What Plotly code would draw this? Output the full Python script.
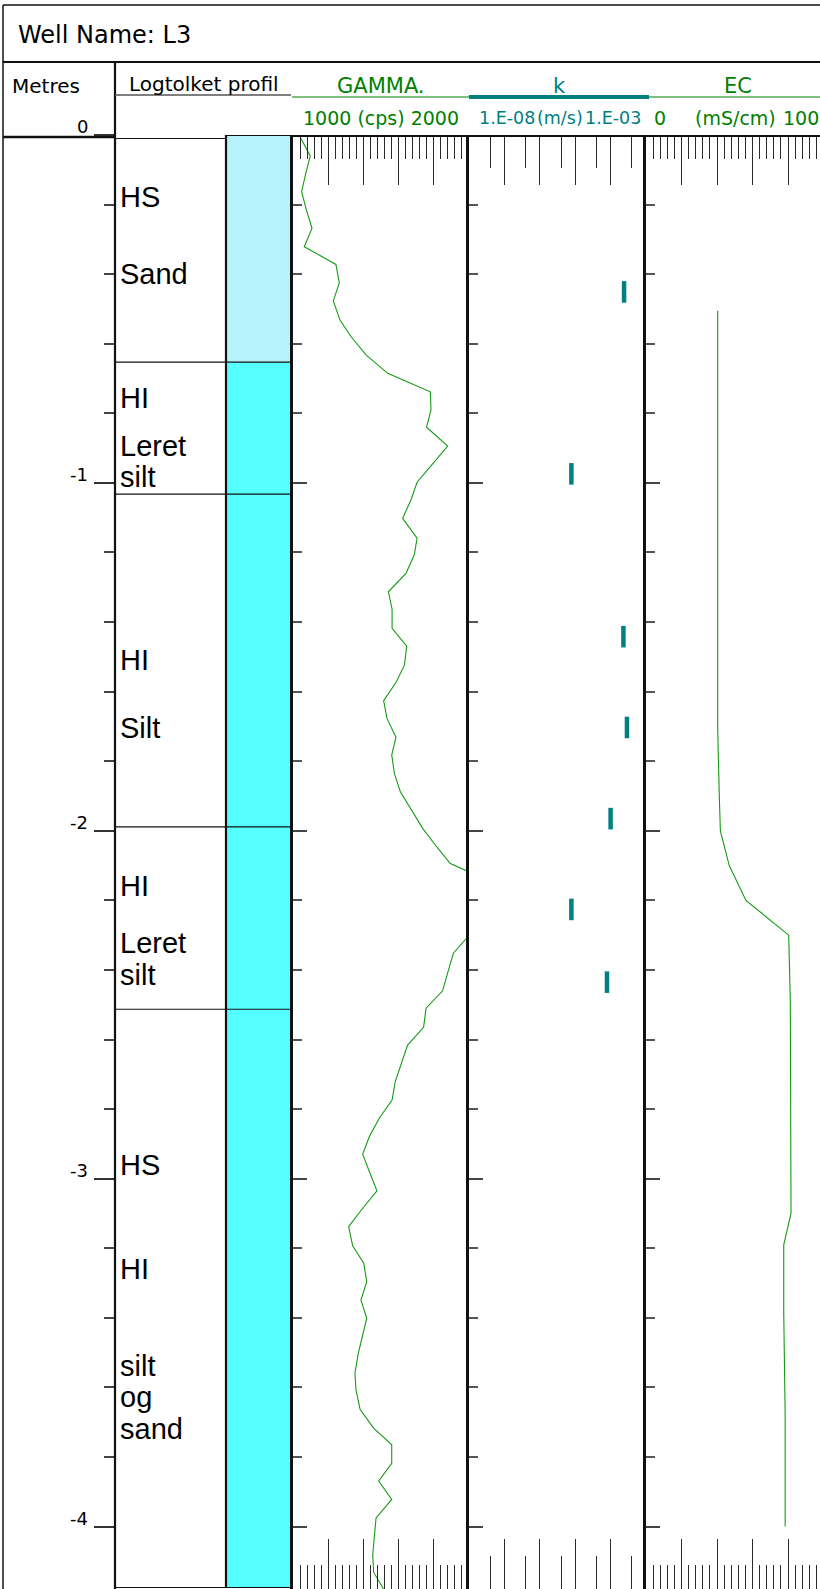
import plotly.graph_objects as go

W, H = 820, 1589
FONT = "Liberation Sans, Arial, sans-serif"
HEAD_FONT = "DejaVu Sans, Liberation Sans, sans-serif"
GREEN = "#008000"
TEAL = "#008080"
TICK = "#2a2a2a"

# ---------------- data ----------------
# Gamma log: level (m) and count rate (cps)
gamma_level = [-0.005, -0.060, -0.112, -0.163, -0.215, -0.268, -0.321, -0.372, -0.425, -0.477,
               -0.532, -0.580, -0.632, -0.685, -0.738, -0.790, -0.840, -0.894, -0.946, -0.998,
               -1.049, -1.102, -1.159, -1.207, -1.260, -1.313, -1.363, -1.418, -1.469, -1.524,
               -1.574, -1.626, -1.677, -1.731, -1.782, -1.835, -1.888, -1.940, -1.993, -2.045,
               -2.094, -2.146, -2.199, -2.252, -2.352, -2.406, -2.460, -2.510, -2.565, -2.616,
               -2.668, -2.721, -2.774, -2.826, -2.879, -2.930, -2.982, -3.035, -3.085, -3.138,
               -3.193, -3.243, -3.296, -3.349, -3.401, -3.454, -3.502, -3.559, -3.607, -3.663,
               -3.717, -3.765, -3.818, -3.869, -3.922, -3.975, -4.027, -4.080, -4.131, -4.176,
               -4.220]
gamma_cps = [1040, 1098, 1072, 1049, 1076, 1108, 1064, 1244, 1263, 1229,
             1267, 1330, 1415, 1538, 1780, 1784, 1759, 1879, 1792, 1705,
             1670, 1623, 1705, 1689, 1642, 1542, 1563, 1563, 1646, 1633,
             1585, 1515, 1534, 1585, 1561, 1576, 1610, 1673, 1737, 1815,
             1894, 2125, 2150, 2085, 1911, 1880, 1850, 1756, 1742, 1651,
             1616, 1581, 1563, 1490, 1434, 1396, 1436, 1477, 1396, 1316,
             1339, 1402, 1419, 1386, 1419, 1396, 1371, 1352, 1358, 1381,
             1458, 1561, 1561, 1487, 1561, 1472, 1462, 1453, 1458, 1510,
             1545]

# Hydraulic conductivity k (m/s) over short test intervals
k_top = [-0.420, -0.943, -1.411, -1.672, -1.934, -2.195, -2.404]
k_bottom = [-0.482, -1.005, -1.473, -1.734, -1.996, -2.257, -2.466]
k_ms = [2.4e-4, 7.8e-6, 2.3e-4, 2.9e-4, 1.0e-4, 7.8e-6, 7.9e-5]

# Electrical conductivity (mS/cm)
ec_level = [-0.505, -1.709, -1.901, -2.000, -2.100, -2.200, -2.300, -2.490, -3.100, -3.190,
            -3.385, -3.680, -4.000]
ec_mscm = [40.4, 40.4, 41.3, 41.9, 46.9, 56.3, 80.4, 81.3, 81.7, 77.6,
           77.6, 78.4, 78.4]

# Interpreted lithology ("Logtolket profil")
litho_top = [0.0, -0.653, -1.032, -1.989, -2.513]
litho_bottom = [-0.653, -1.032, -1.989, -2.513, -4.175]
litho_fill = ["#B6F2FB", "#55FFFF", "#55FFFF", "#55FFFF", "#55FFFF"]
litho_text = ["HS", "Sand", "HI", "Leret", "silt", "HI", "Silt", "HI", "Leret", "silt",
              "HS", "HI", "silt", "og", "sand"]
litho_text_level = [-0.177, -0.400, -0.756, -0.894, -0.983, -1.509, -1.704, -2.159, -2.322, -2.415,
                    -2.962, -3.259, -3.538, -3.627, -3.719]

# Scales and ticks
depth_major = [0, -1, -2, -3, -4]
depth_labels = ["0", "-1", "-2", "-3", "-4"]
gamma_range = [1000, 2000]
gamma_major = [1200, 1400, 1600, 1800]
k_range_log = [-8, -3]
k_major = [1e-7, 1e-6, 1e-5, 1e-4]
k_minor = [4e-8, 4e-7, 4e-6, 4e-5, 4e-4]
ec_major = [20, 40, 60, 80]

# ---------------- page geometry (pixels) ----------------
TOP = 135            # row of level 0
PX_PER_M = 347.9
LEVEL_MIN = -(H - TOP) / PX_PER_M
X_LEFT = 3
X_METRES = 115
X_COLOR = 226
X_GAMMA = 293
X_K = 469
X_EC = 646
EC_PX_PER_UNIT = 1.775


def px(x):
    return x / W


def py(y):
    return 1 - y / H


fig = go.Figure()

fig.add_trace(go.Scatter(x=gamma_cps, y=gamma_level, xaxis="x", yaxis="y", mode="lines",
                         line=dict(color="#169a16", width=1.1), hoverinfo="skip"))

kx, ky = [], []
for v, t, b in zip(k_ms, k_top, k_bottom):
    kx += [v, v, None]
    ky += [t, b, None]
fig.add_trace(go.Scatter(x=kx, y=ky, xaxis="x2", yaxis="y2", mode="lines",
                         line=dict(color=TEAL, width=4.5), hoverinfo="skip"))

fig.add_trace(go.Scatter(x=ec_mscm, y=ec_level, xaxis="x3", yaxis="y3", mode="lines",
                         line=dict(color="#169a16", width=1.1), hoverinfo="skip"))

# Metres ruler axis carries no data of its own
fig.add_trace(go.Scatter(x=[None], y=[None], xaxis="x", yaxis="y4", showlegend=False))


def xaxis_common(domain, anchor, major_len):
    return dict(domain=domain, anchor=anchor, side="top", showline=False, showgrid=False,
                zeroline=False, showticklabels=False, ticks="inside", ticklen=major_len,
                tickwidth=1, tickcolor=TICK, mirror="ticks", fixedrange=True)


xa1 = xaxis_common([px(X_GAMMA), px(X_K)], "y", 50)
xa1.update(range=gamma_range, tickmode="array", tickvals=gamma_major,
           minor=dict(ticks="inside", tickmode="linear", tick0=1000, dtick=40, ticklen=24,
                      tickwidth=1, tickcolor=TICK, showgrid=False))
xa2 = xaxis_common([px(X_K), px(X_EC)], "y2", 50)
xa2.update(type="log", range=k_range_log, tickmode="array", tickvals=k_major,
           minor=dict(ticks="inside", tickmode="array", tickvals=k_minor, ticklen=33,
                      tickwidth=1, tickcolor=TICK, showgrid=False))
xa3 = xaxis_common([px(X_EC), 1], "y3", 50)
xa3.update(range=[0, (W - X_EC) / EC_PX_PER_UNIT], tickmode="array", tickvals=ec_major,
           minor=dict(ticks="inside", tickmode="linear", tick0=0, dtick=4, ticklen=24,
                      tickwidth=1, tickcolor=TICK, showgrid=False))


def yaxis_track(anchor):
    return dict(domain=[0, py(TOP)], range=[LEVEL_MIN, 0], anchor=anchor, side="left",
                ticks="inside", tickmode="array", tickvals=depth_major, ticklen=14,
                tickwidth=1.5, tickcolor="#444",
                minor=dict(ticks="inside", tickmode="linear", tick0=0, dtick=0.2, ticklen=9,
                           tickwidth=1.5, tickcolor="#555", showgrid=False),
                showline=True, linewidth=2.5, linecolor="#111", mirror=False,
                showticklabels=False, showgrid=False, zeroline=False, fixedrange=True)


ya1 = yaxis_track("x")
ya2 = yaxis_track("x2")
ya2["matches"] = "y"
ya3 = yaxis_track("x3")
ya3["matches"] = "y"
ya4 = dict(overlaying="y", anchor="free", position=px(X_METRES), side="left",
           range=[LEVEL_MIN, 0], ticks="outside", tickmode="array", tickvals=depth_major,
           ticklen=21, tickwidth=1.5, tickcolor="#333",
           minor=dict(ticks="outside", tickmode="linear", tick0=0, dtick=0.2, ticklen=11,
                      tickwidth=1.5, tickcolor="#444", showgrid=False),
           showline=False, showticklabels=False, showgrid=False, zeroline=False,
           fixedrange=True)

shapes = []


def hline(y, x0, x1, width=1.0, color="#111"):
    shapes.append(dict(type="line", xref="paper", yref="paper", x0=px(x0), x1=px(x1),
                       y0=py(y), y1=py(y), line=dict(color=color, width=width)))


def vline(x, y0, y1, width=1.0, color="#111"):
    shapes.append(dict(type="line", xref="paper", yref="paper", x0=px(x), x1=px(x),
                       y0=py(y0), y1=py(y1), line=dict(color=color, width=width)))


# header frame
hline(5, X_LEFT, W, 1.5)
vline(X_LEFT, 5, H, 1.5)
hline(62, X_LEFT, W, 2)
vline(X_METRES, 62, H, 2.2)
hline(95, X_METRES, 291, 1.5, "#555")
hline(97, 292, 469, 1.2, GREEN)
hline(97, 469, 649, 4, TEAL)
hline(97, 649, W, 1.2, GREEN)
hline(137, X_LEFT, X_METRES, 2.5)
hline(138.5, X_METRES, X_COLOR, 1)
hline(136, 292, W, 2.2)

# lithology column
for t, b, c in zip(litho_top, litho_bottom, litho_fill):
    shapes.append(dict(type="rect", xref="paper", yref="y", x0=px(X_COLOR), x1=px(292),
                       y0=t, y1=b, fillcolor=c, line=dict(width=0), layer="below"))
    shapes.append(dict(type="line", xref="paper", yref="y", x0=px(X_METRES), x1=px(292),
                       y0=b, y1=b, line=dict(color="#111", width=1.2)))
shapes.append(dict(type="line", xref="paper", yref="y", x0=px(X_COLOR), x1=px(292),
                   y0=litho_top[0], y1=litho_top[0], line=dict(color="#111", width=2.2)))
shapes.append(dict(type="line", xref="paper", yref="y", x0=px(X_COLOR), x1=px(X_COLOR),
                   y0=litho_top[0], y1=litho_bottom[-1], line=dict(color="#111", width=2.2)))

annotations = []


def text(x, y, s, size, color="#000", xanchor="left", yanchor="middle"):
    annotations.append(dict(xref="paper", yref="paper", x=px(x), y=py(y), text=s,
                            showarrow=False, xanchor=xanchor, yanchor=yanchor,
                            font=dict(family=HEAD_FONT, size=size, color=color), borderpad=0))


text(17, 35, "Well Name: L3", 24)
text(11, 86, "Metres", 20)
text(204, 84, "Logtolket profil", 20, xanchor="center")
text(381, 86, "GAMMA.", 21, GREEN, "center")
text(559, 86, "k", 21, TEAL, "center")
text(738, 86, "EC", 21, GREEN, "center")
text(381, 118, "1000 (cps) 2000", 19, GREEN, "center")
text(478, 118, "1.E-08", 17.5, TEAL)
text(560, 118, "(m/s)", 17.5, TEAL, "center")
text(642, 118, "1.E-03", 17.5, TEAL, "right")
text(653, 118, "0", 19, GREEN)
text(735, 118, "(mS/cm)", 19, GREEN, "center")
text(820, 118, "100", 19, GREEN, "right")

for lv, lab in zip(depth_major, depth_labels):
    annotations.append(dict(xref="paper", yref="y", x=px(89), y=lv, text=lab, showarrow=False,
                            xanchor="right", yanchor="bottom", yshift=-3, borderpad=0,
                            font=dict(family=HEAD_FONT, size=18, color="#000")))

for lab, lv in zip(litho_text, litho_text_level):
    annotations.append(dict(xref="paper", yref="y", x=px(119), y=lv, text=lab, showarrow=False,
                            xanchor="left", yanchor="middle", borderpad=0,
                            font=dict(family=FONT, size=29, color="#000")))

fig.update_layout(
    width=W, height=H, margin=dict(l=0, r=0, t=0, b=0),
    paper_bgcolor="white", plot_bgcolor="white", showlegend=False,
    xaxis=xa1, xaxis2=xa2, xaxis3=xa3,
    yaxis=ya1, yaxis2=ya2, yaxis3=ya3, yaxis4=ya4,
    shapes=shapes, annotations=annotations,
)

fig.write_html("out.html")
